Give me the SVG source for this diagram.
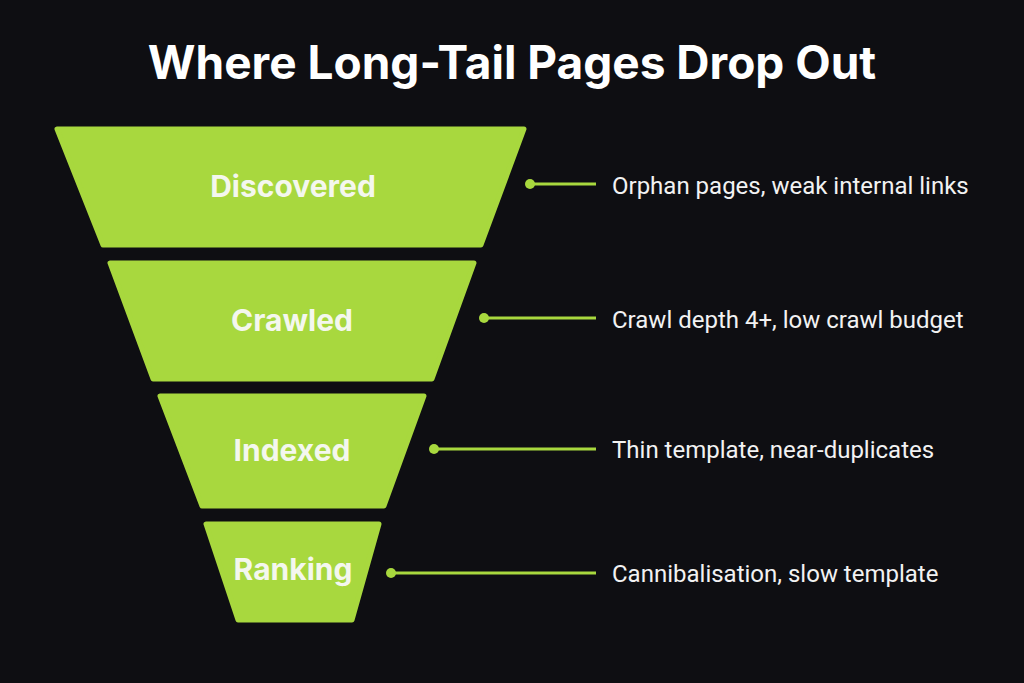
<svg xmlns="http://www.w3.org/2000/svg" width="1024" height="683" viewBox="0 0 1024 683">
<style>
.bg{fill:#0e0e12}
.seg{fill:#a8d83e;stroke:#a8d83e;stroke-width:5;stroke-linejoin:round}
.lbl{font-family:Inter,"Liberation Sans",sans-serif;font-weight:700;font-size:30px;fill:#f4f7ee;text-anchor:middle}
.note{font-family:Roboto,"Liberation Sans",sans-serif;font-size:24px;fill:#f2f2f2}
.title{font-family:Inter,"Liberation Sans",sans-serif;font-weight:700;font-size:46px;fill:#ffffff;text-anchor:middle}
.conn line{stroke:#a8d83e;stroke-width:3}
.conn circle{fill:#a8d83e}
</style>
<rect class="bg" x="0" y="0" width="1024" height="683"/>
<text class="title" x="512" y="79">Where Long-Tail Pages Drop Out</text>
<g id="discovered">
<polygon class="seg" points="57,129 524,129 481,245 103,245"/>
<text class="lbl" x="293" y="197">Discovered</text>
</g>
<g id="crawled">
<polygon class="seg" points="110,263 474,263 432,379 153,379"/>
<text class="lbl" x="292" y="331">Crawled</text>
</g>
<g id="indexed">
<polygon class="seg" points="160,396 424,396 384,506 202,506"/>
<text class="lbl" x="292" y="461">Indexed</text>
</g>
<g id="ranking">
<polygon class="seg" points="206,524 379,524 352,620 238,620"/>
<text class="lbl" x="293" y="580">Ranking</text>
</g>
<g id="connectors" class="conn">
<line x1="530" y1="184" x2="596" y2="184"/><circle cx="530" cy="184" r="5"/>
<line x1="484" y1="318" x2="596" y2="318"/><circle cx="484" cy="318" r="5"/>
<line x1="434" y1="449" x2="596" y2="449"/><circle cx="434" cy="449" r="5"/>
<line x1="391" y1="573" x2="596" y2="573"/><circle cx="391" cy="573" r="5"/>
</g>
<g id="notes">
<text class="note" x="612" y="194">Orphan pages, weak internal links</text>
<text class="note" x="612" y="328">Crawl depth 4+, low crawl budget</text>
<text class="note" x="612" y="458">Thin template, near-duplicates</text>
<text class="note" x="612" y="582">Cannibalisation, slow template</text>
</g>
</svg>
